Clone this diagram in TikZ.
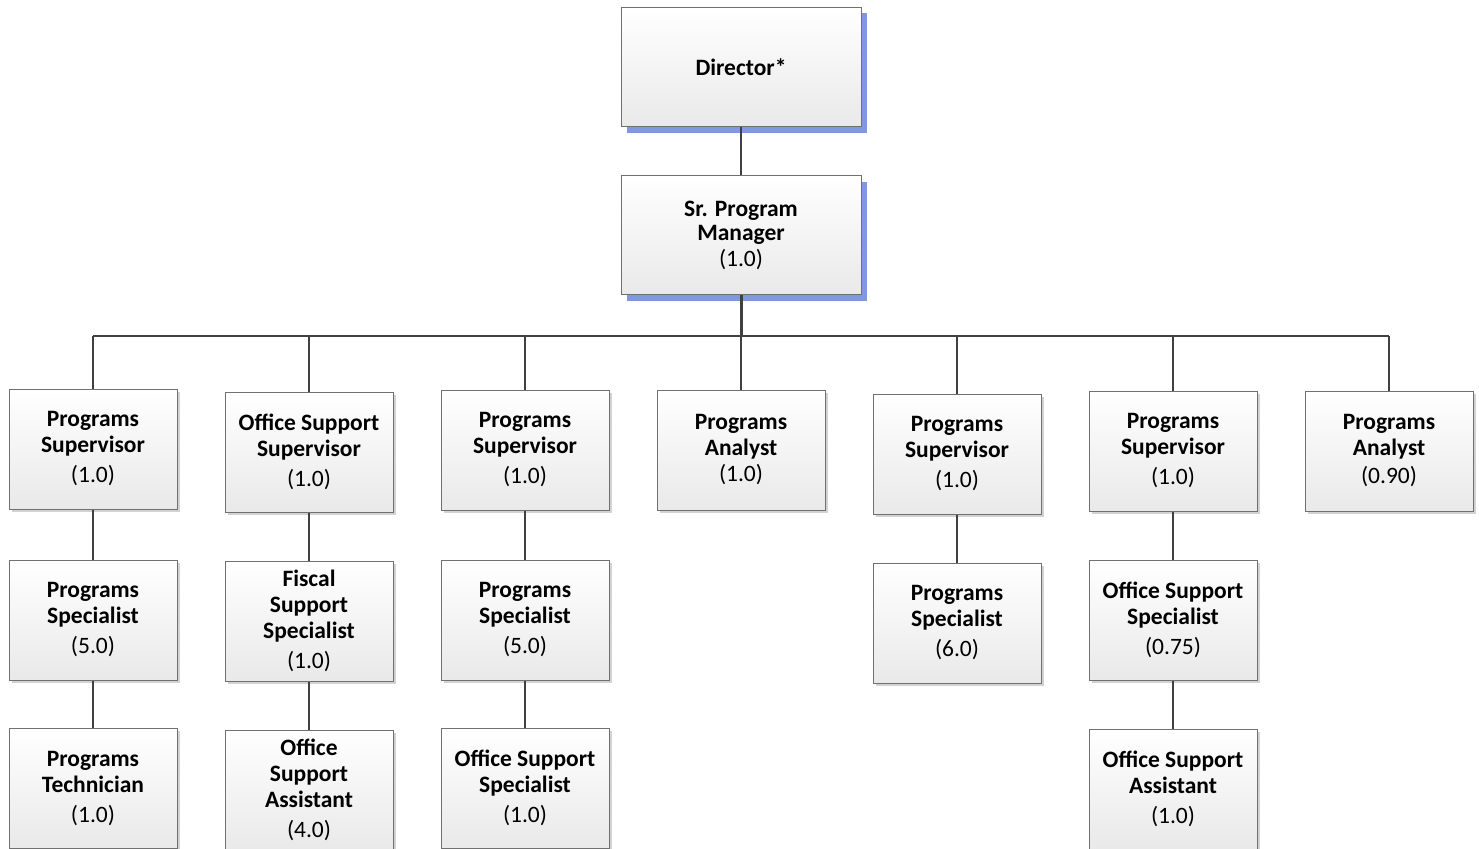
\documentclass[tikz,border=0pt]{standalone}
\usepackage{fontspec}
\setmainfont{Carlito}
\usetikzlibrary{shadows}
\definecolor{lborder}{HTML}{707070}
\definecolor{lline}{HTML}{404040}
\definecolor{lfill}{HTML}{E9E9E9}
\definecolor{lshade}{HTML}{D2D2D2}
\definecolor{lblue}{HTML}{7F98E0}

\tikzset{
  boxbase/.style={draw=lborder, line width=1pt, top color=white, bottom color=lfill,
    minimum width=168pt, minimum height=120pt, align=center, inner sep=0pt,
    font=\fontsize{23.5}{26}\selectfont\bfseries},
  post/.style={boxbase, drop shadow={shadow xshift=3pt, shadow yshift=-3pt, fill=lshade, opacity=1}},
  head/.style={boxbase, minimum width=240pt, minimum height=119pt,
    drop shadow={shadow xshift=6pt, shadow yshift=-6pt, fill=lblue, opacity=1}},
  link/.style={draw=lline, line width=2pt},
}

\begin{document}
\begin{tikzpicture}[x=1pt,y=-1pt]
    \useasboundingbox (0,0) rectangle (1479,848);
    % top of the chart
    \node[head] (dir) at (741,67) {Director*};
    \node[head] (spm) at (741,235) {Sr. Program\\[-2pt]Manager\\[0pt]\textmd{(1.0)}};
    \coordinate (bus) at (0,336);

    % first row
    \node[post] (a1) at (93,449) {Programs\\Supervisor\\[4pt]\textmd{(1.0)}};
    \node[post] (a2) at (309,452) {Office Support\\Supervisor\\[4pt]\textmd{(1.0)}};
    \node[post] (a3) at (525,450) {Programs\\Supervisor\\[4pt]\textmd{(1.0)}};
    \node[post] (a4) at (741,450) {Programs\\Analyst\\[0pt]\textmd{(1.0)}};
    \node[post] (a5) at (957,454) {Programs\\Supervisor\\[4pt]\textmd{(1.0)}};
    \node[post] (a6) at (1173,451) {Programs\\Supervisor\\[4pt]\textmd{(1.0)}};
    \node[post] (a7) at (1389,451) {Programs\\Analyst\\[2pt]\textmd{(0.90)}};

    % second row
    \node[post] (b1) at (93,620) {Programs\\Specialist\\[4pt]\textmd{(5.0)}};
    \node[post] (b2) at (309,621) {Fiscal\\Support\\Specialist\\[4pt]\textmd{(1.0)}};
    \node[post] (b3) at (525,620) {Programs\\Specialist\\[4pt]\textmd{(5.0)}};
    \node[post] (b5) at (957,623) {Programs\\Specialist\\[4pt]\textmd{(6.0)}};
    \node[post] (b6) at (1173,620) {Office Support\\Specialist\\[4pt]\textmd{(0.75)}};

    % third row
    \node[post] (c1) at (93,788) {Programs\\Technician\\[4pt]\textmd{(1.0)}};
    \node[post] (c2) at (309,790) {Office\\Support\\Assistant\\[4pt]\textmd{(4.0)}};
    \node[post] (c3) at (525,788) {Office Support\\Specialist\\[4pt]\textmd{(1.0)}};
    \node[post] (c6) at (1173,789) {Office Support\\Assistant\\[4pt]\textmd{(1.0)}};

    % connectors
    \draw[link] (dir.south) -- (spm.north);
    \draw[link, line width=3pt] (spm.south) -- (spm.south |- bus);
    \draw[link] (a1.north |- bus) -- (a7.north |- bus);
    \foreach \n in {a1,a2,a3,a4,a5,a6,a7}
        \draw[link] (\n.north) -- (\n.north |- bus);
    \foreach \u/\v in {a1/b1,b1/c1,a2/b2,b2/c2,a3/b3,b3/c3,a5/b5,a6/b6,b6/c6}
        \draw[link] (\u.south) -- (\v.north);
\end{tikzpicture}
\end{document}
